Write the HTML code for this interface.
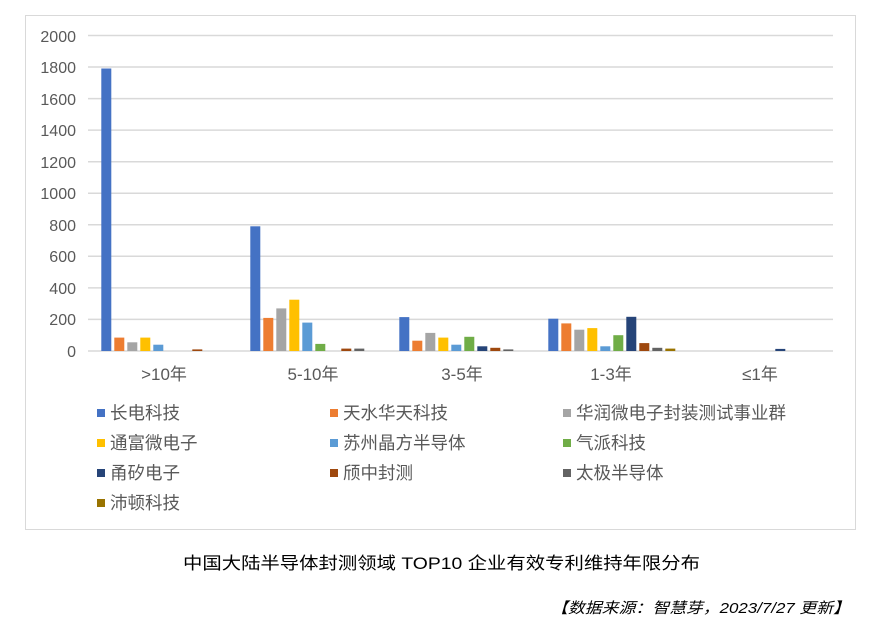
<!DOCTYPE html>
<html><head><meta charset="utf-8"><style>
body{margin:0;background:#fff;width:881px;height:632px;overflow:hidden;font-family:"Liberation Sans","Noto Sans CJK SC",sans-serif;}
</style></head><body>
<svg width="881" height="632" xmlns="http://www.w3.org/2000/svg" font-family="Liberation Sans, Noto Sans CJK SC, sans-serif">
<rect x="25.5" y="15.5" width="830" height="514" fill="#fff" stroke="#d9d9d9"/>
<g stroke="#d9d9d9" stroke-width="1.5">
<line x1="88" x2="833" y1="351" y2="351"/><line x1="88" x2="833" y1="319.4" y2="319.4"/><line x1="88" x2="833" y1="287.9" y2="287.9"/><line x1="88" x2="833" y1="256.3" y2="256.3"/><line x1="88" x2="833" y1="224.8" y2="224.8"/><line x1="88" x2="833" y1="193.2" y2="193.2"/><line x1="88" x2="833" y1="161.7" y2="161.7"/><line x1="88" x2="833" y1="130.1" y2="130.1"/><line x1="88" x2="833" y1="98.6" y2="98.6"/><line x1="88" x2="833" y1="67" y2="67"/><line x1="88" x2="833" y1="35.5" y2="35.5"/>
</g>
<g font-size="16" fill="#595959" text-anchor="end">
<text x="76" y="357">0</text><text x="76" y="325">200</text><text x="76" y="294">400</text><text x="76" y="262">600</text><text x="76" y="231">800</text><text x="76" y="199">1000</text><text x="76" y="168">1200</text><text x="76" y="136">1400</text><text x="76" y="105">1600</text><text x="76" y="73">1800</text><text x="76" y="42">2000</text>
</g>
<g>
<rect x="101.3" y="68.5" width="10" height="282.5" fill="#4472C4"/>
<rect x="114.3" y="337.6" width="10" height="13.4" fill="#ED7D31"/>
<rect x="127.3" y="342.3" width="10" height="8.7" fill="#A5A5A5"/>
<rect x="140.3" y="337.6" width="10" height="13.4" fill="#FFC000"/>
<rect x="153.3" y="344.7" width="10" height="6.3" fill="#5B9BD5"/>
<rect x="192.3" y="349.4" width="10" height="1.6" fill="#9E480E"/>

<rect x="250.3" y="226.3" width="10" height="124.7" fill="#4472C4"/>
<rect x="263.3" y="317.9" width="10" height="33.1" fill="#ED7D31"/>
<rect x="276.3" y="308.4" width="10" height="42.6" fill="#A5A5A5"/>
<rect x="289.3" y="299.7" width="10" height="51.3" fill="#FFC000"/>
<rect x="302.3" y="322.6" width="10" height="28.4" fill="#5B9BD5"/>
<rect x="315.3" y="343.9" width="10" height="7.1" fill="#70AD47"/>
<rect x="341.3" y="348.6" width="10" height="2.4" fill="#9E480E"/>
<rect x="354.3" y="348.6" width="10" height="2.4" fill="#636363"/>

<rect x="399.3" y="317.1" width="10" height="33.9" fill="#4472C4"/>
<rect x="412.3" y="340.7" width="10" height="10.3" fill="#ED7D31"/>
<rect x="425.3" y="332.9" width="10" height="18.1" fill="#A5A5A5"/>
<rect x="438.3" y="337.6" width="10" height="13.4" fill="#FFC000"/>
<rect x="451.3" y="344.7" width="10" height="6.3" fill="#5B9BD5"/>
<rect x="464.3" y="336.8" width="10" height="14.2" fill="#70AD47"/>
<rect x="477.3" y="346.3" width="10" height="4.7" fill="#264478"/>
<rect x="490.3" y="347.8" width="10" height="3.2" fill="#9E480E"/>
<rect x="503.3" y="349.4" width="10" height="1.6" fill="#636363"/>

<rect x="548.3" y="318.7" width="10" height="32.3" fill="#4472C4"/>
<rect x="561.3" y="323.4" width="10" height="27.6" fill="#ED7D31"/>
<rect x="574.3" y="329.7" width="10" height="21.3" fill="#A5A5A5"/>
<rect x="587.3" y="328.1" width="10" height="22.9" fill="#FFC000"/>
<rect x="600.3" y="346.3" width="10" height="4.7" fill="#5B9BD5"/>
<rect x="613.3" y="335.2" width="10" height="15.8" fill="#70AD47"/>
<rect x="626.3" y="316.8" width="10" height="34.2" fill="#264478"/>
<rect x="639.3" y="343.1" width="10" height="7.9" fill="#9E480E"/>
<rect x="652.3" y="347.8" width="10" height="3.2" fill="#636363"/>
<rect x="665.3" y="348.6" width="10" height="2.4" fill="#997300"/>

<rect x="775.3" y="348.9" width="10" height="2.1" fill="#264478"/>
</g>
<g font-size="17" fill="#595959" text-anchor="middle">
<text x="164" y="380">&gt;10年</text><text x="313" y="380">5-10年</text><text x="462" y="380">3-5年</text><text x="611" y="380">1-3年</text><text x="760" y="380">≤1年</text>
</g>
<g font-size="17.5" fill="#595959">
<rect x="97" y="409" width="8" height="8" fill="#4472C4"/><text x="110" y="419">长电科技</text>
<rect x="330" y="409" width="8" height="8" fill="#ED7D31"/><text x="343" y="419">天水华天科技</text>
<rect x="563" y="409" width="8" height="8" fill="#A5A5A5"/><text x="576" y="419">华润微电子封装测试事业群</text>
<rect x="97" y="439" width="8" height="8" fill="#FFC000"/><text x="110" y="449">通富微电子</text>
<rect x="330" y="439" width="8" height="8" fill="#5B9BD5"/><text x="343" y="449">苏州晶方半导体</text>
<rect x="563" y="439" width="8" height="8" fill="#70AD47"/><text x="576" y="449">气派科技</text>
<rect x="97" y="469" width="8" height="8" fill="#264478"/><text x="110" y="479">甬矽电子</text>
<rect x="330" y="469" width="8" height="8" fill="#9E480E"/><text x="343" y="479">颀中封测</text>
<rect x="563" y="469" width="8" height="8" fill="#636363"/><text x="576" y="479">太极半导体</text>
<rect x="97" y="499" width="8" height="8" fill="#997300"/><text x="110" y="509">沛顿科技</text>
</g>
<text x="183" y="569" font-size="17" fill="#000" textLength="517" lengthAdjust="spacingAndGlyphs">中国大陆半导体封测领域 TOP10 企业有效专利维持年限分布</text>
<text x="551" y="613" font-size="15" fill="#000" font-style="italic" textLength="299" lengthAdjust="spacingAndGlyphs">【数据来源：智慧芽，2023/7/27 更新】</text>
</svg>
</body></html>
